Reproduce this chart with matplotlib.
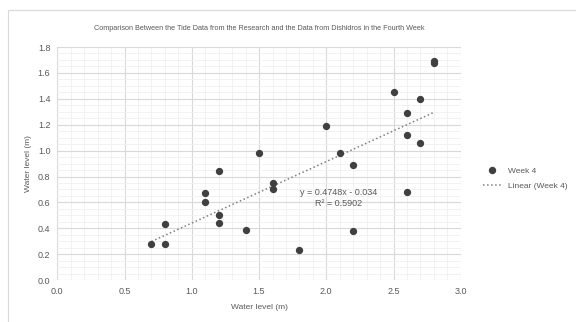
import numpy as np
import matplotlib.pyplot as plt
from matplotlib.ticker import MultipleLocator
from matplotlib.lines import Line2D
from matplotlib.patches import Rectangle

# Datos de la cuarta semana
research = [0.7, 0.8, 0.8, 1.1, 1.1, 1.2, 1.2, 1.2, 1.4, 1.5, 1.6, 1.6, 1.8,
            2.0, 2.1, 2.2, 2.2, 2.5, 2.6, 2.6, 2.6, 2.7, 2.7, 2.8, 2.8]
dishidros = [0.28, 0.43, 0.28, 0.67, 0.60, 0.84, 0.50, 0.44, 0.385, 0.98, 0.75, 0.70, 0.23,
             1.19, 0.98, 0.89, 0.38, 1.45, 1.29, 1.12, 0.68, 1.40, 1.06, 1.69, 1.68]

# Tendencia lineal mostrada en la grafica
pendiente = 0.4748
intercepto = -0.034
r2 = 0.5902

plt.rcParams['font.family'] = ['Liberation Sans', 'DejaVu Sans']
gris_txt = '#595959'

fig = plt.figure(figsize=(5.76, 3.22), dpi=100)
ax = fig.add_axes([0.0995, 0.130, 0.7005, 0.724])

# Marco exterior del grafico
fig.patches.append(Rectangle((0.014, -0.01), 1.0, 0.98, transform=fig.transFigure,
                             fill=False, edgecolor='#d9d9d9', linewidth=0.8))

ax.scatter(research, dishidros, s=18, color='#404040', zorder=3)

x_lin = np.array([min(research), max(research)])
ax.plot(x_lin, pendiente * x_lin + intercepto, linestyle=':', color='#7f7f7f',
        linewidth=1.1, zorder=2)

ax.text(2.09, 0.675, 'y = 0.4748x - 0.034', ha='center', va='center',
        fontsize=6.5, color=gris_txt)
ax.text(2.09, 0.593, 'R² = 0.5902', ha='center', va='center',
        fontsize=6.5, color=gris_txt)

ax.set_xlim(0, 3.0)
ax.set_ylim(0, 1.8)
ax.xaxis.set_major_locator(MultipleLocator(0.5))
ax.xaxis.set_minor_locator(MultipleLocator(0.1))
ax.yaxis.set_major_locator(MultipleLocator(0.2))
ax.yaxis.set_minor_locator(MultipleLocator(0.05))
ax.xaxis.set_major_formatter(plt.FormatStrFormatter('%.1f'))
ax.yaxis.set_major_formatter(plt.FormatStrFormatter('%.1f'))
ax.grid(True, which='major', color='#d9d9d9', linewidth=0.8)
ax.grid(True, which='minor', color='#f0f0f0', linewidth=0.6)
ax.set_axisbelow(True)
for s in ax.spines.values():
    s.set_visible(False)
ax.tick_params(which='both', length=0, labelsize=6.5, labelcolor=gris_txt, pad=5)

ax.set_xlabel('Water level (m)', fontsize=6, color=gris_txt, labelpad=6)
ax.set_ylabel('Water level (m)', fontsize=6, color=gris_txt, labelpad=4)
ax.set_title('Comparison Between the Tide Data from the Research and the Data from Dishidros in the Fourth Week',
             fontsize=5.2, color=gris_txt, pad=12)

handles = [Line2D([], [], marker='o', linestyle='none', color='#404040', markersize=4.3),
           Line2D([], [], linestyle=':', color='#7f7f7f', linewidth=1.1)]
fig.legend(handles, ['Week 4', 'Linear (Week 4)'], loc='center left',
           bbox_to_anchor=(0.825, 0.445), frameon=False, fontsize=6,
           labelcolor=gris_txt, handlelength=2.2, handletextpad=0.8, labelspacing=0.8)

plt.savefig('out.png', dpi=100)
